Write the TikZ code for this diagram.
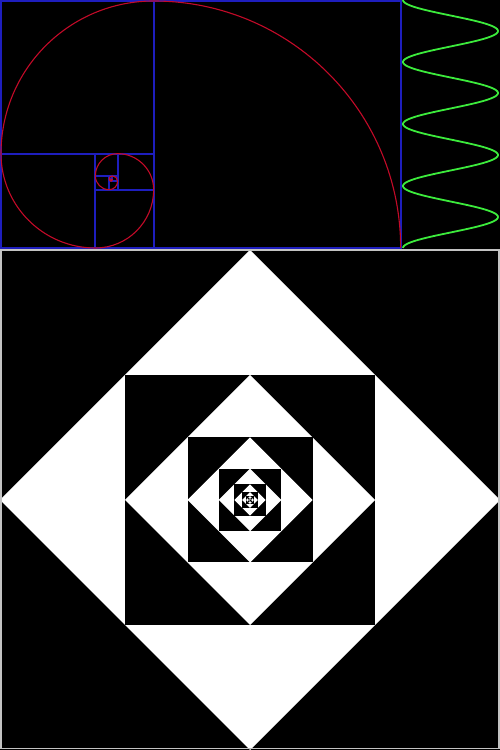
\documentclass[tikz,border=0pt]{standalone}
\begin{document}
\begin{tikzpicture}[x=1pt,y=1pt]
\definecolor{gblue}{RGB}{30,30,190}
\definecolor{sred}{RGB}{195,10,40}
\definecolor{sgreen}{RGB}{60,235,60}
\definecolor{frame}{RGB}{195,195,195}
\tikzset{sq/.style={draw=gblue,line width=2pt},
         spiral/.style={draw=sred,line width=1.1pt},
         wave/.style={draw=sgreen,line width=1.8pt}}
\useasboundingbox (0,0) rectangle (500,750);
\fill[black] (0,0) rectangle (500,750);
% nested squares and diamonds
\foreach \k in {0,...,10} {
  \pgfmathsetmacro\r{250/2^\k}
  \fill[white] (250-\r,250) -- (250,250+\r) -- (250+\r,250) -- (250,250-\r) -- cycle;
  \fill[black] (250-\r/2,250-\r/2) rectangle (250+\r/2,250+\r/2);
}
\draw[frame,line width=1.5pt] (1,1.5) rectangle (498.8,500);
% golden rectangles
\draw[sq] (154,502) rectangle (401,749);
\draw[sq] (154,596) rectangle (1,749);
\draw[sq] (95,596) rectangle (1,502);
\draw[sq] (95,560) rectangle (154,502);
\draw[sq] (117.620,560) rectangle (154,596);
\draw[sq] (117.620,574.073) rectangle (95,596);
\draw[sq] (109.113,574.073) rectangle (95,560);
\draw[sq] (109.113,568.815) rectangle (117.620,560);
\draw[sq] (112.362,568.815) rectangle (117.620,574.073);
\draw[sq] (112.362,570.823) rectangle (109.113,574.072);
% spiral
\draw[spiral] (400.654,502) \foreach \k in {0,...,14} {
  arc[start angle={90*\k}, end angle={90*\k+90}, radius={247/(1.618034^\k)}] };
% wave
\draw[wave] plot[domain=0:248,samples=240,variable=\t] ({450.5-47.5*cos(5.806452*\t)},{750-\t});
\end{tikzpicture}
\end{document}
